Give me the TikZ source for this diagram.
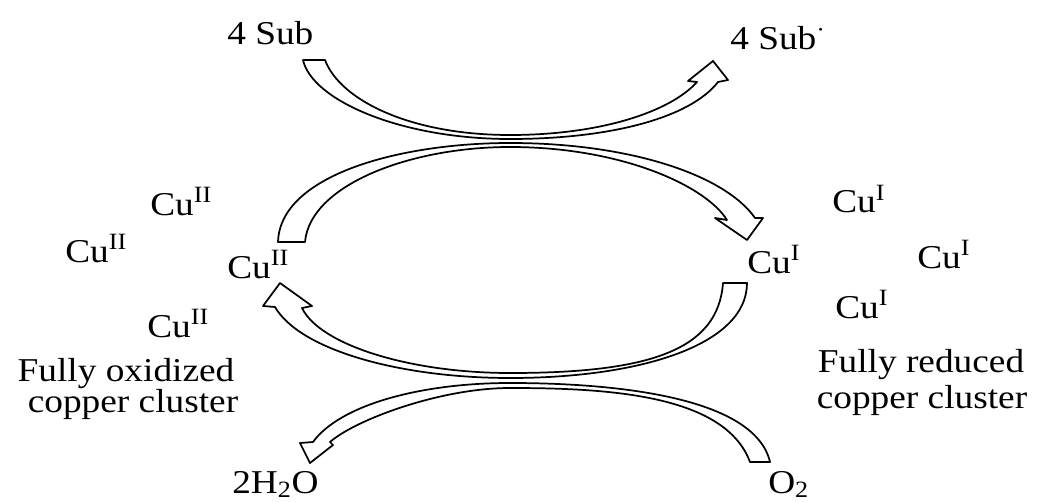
\documentclass[tikz,border=0pt]{standalone}
\usepackage{fontspec}
\setmainfont{Liberation Serif}[FakeStretch=1.12]
\begin{document}
\begin{tikzpicture}[x=0.75pt,y=-0.75pt,
  lbl/.style={inner sep=0pt, font=\fontsize{25}{30}\selectfont},
  blockarrow/.style={draw=black, fill=white, line width=1.3pt, line join=round}]
\useasboundingbox (0,0) rectangle (1037,502);
% block arrows
\draw[blockarrow] (303,60) -- (325,60)
  .. controls (340,100) and (410,135) .. (510,135)
  .. controls (600,135) and (670,112) .. (697,82)
  -- (688,81) -- (713,61) -- (728,80) -- (718,82)
  .. controls (690,118) and (610,139) .. (510,139)
  .. controls (400,139) and (312,100) .. (303,60) -- cycle;
\draw[blockarrow] (278,242) .. controls (280,175) and (400,143) .. (510,143)
  .. controls (630,143) and (725,175) .. (755,218)
  -- (763,218) -- (747,240) -- (715,218) -- (727,220)
  .. controls (705,185) and (620,147) .. (510,147)
  .. controls (410,147) and (310,185) .. (305,242) -- cycle;
\draw[blockarrow] (723,283) -- (747,283)
  .. controls (747,345) and (640,378) .. (510,378)
  .. controls (400,378) and (300,350) .. (275,307)
  -- (263,306) -- (280,283) -- (312,306) -- (302,308)
  .. controls (320,345) and (410,373) .. (510,373)
  .. controls (650,373) and (718,350) .. (723,283) -- cycle;
\draw[blockarrow] (750,462) -- (770,462)
  .. controls (755,398) and (620,383) .. (510,383)
  .. controls (420,383) and (340,405) .. (313,442)
  -- (300,443) -- (310,463) -- (333,445) -- (330,442)
  .. controls (355,420) and (440,388) .. (510,388)
  .. controls (610,388) and (725,395) .. (750,462) -- cycle;
% labels
\node[lbl, anchor=base west] (subA) at (227,45) {4 Sub};
\node[lbl, anchor=base west] (subB) at (730,50) {4 Sub\textsuperscript{\textperiodcentered}};
\node[lbl, anchor=base west] (cuIIa) at (150,215) {Cu\textsuperscript{II}};
\node[lbl, anchor=base west] (cuIIb) at (65,262) {Cu\textsuperscript{II}};
\node[lbl, anchor=base west] (cuIIc) at (227,278) {Cu\textsuperscript{II}};
\node[lbl, anchor=base west] (cuIId) at (147,337) {Cu\textsuperscript{II}};
\node[lbl, anchor=base] (oxA) at (126,381) {Fully oxidized};
\node[lbl, anchor=base] (oxB) at (133,412) {copper cluster};
\node[lbl, anchor=base west] (cuIa) at (832,213) {Cu\textsuperscript{I}};
\node[lbl, anchor=base west] (cuIb) at (917,268) {Cu\textsuperscript{I}};
\node[lbl, anchor=base west] (cuIc) at (835,318) {Cu\textsuperscript{I}};
\node[lbl, anchor=base west] (cuId) at (747,273) {Cu\textsuperscript{I}};
\node[lbl, anchor=base] (redA) at (921,372) {Fully reduced};
\node[lbl, anchor=base] (redB) at (922,408) {copper cluster};
\node[lbl, anchor=base west] (water) at (232,493) {2H\textsubscript{2}O};
\node[lbl, anchor=base west] (oxy) at (768,493) {O\textsubscript{2}};
\end{tikzpicture}
\end{document}
